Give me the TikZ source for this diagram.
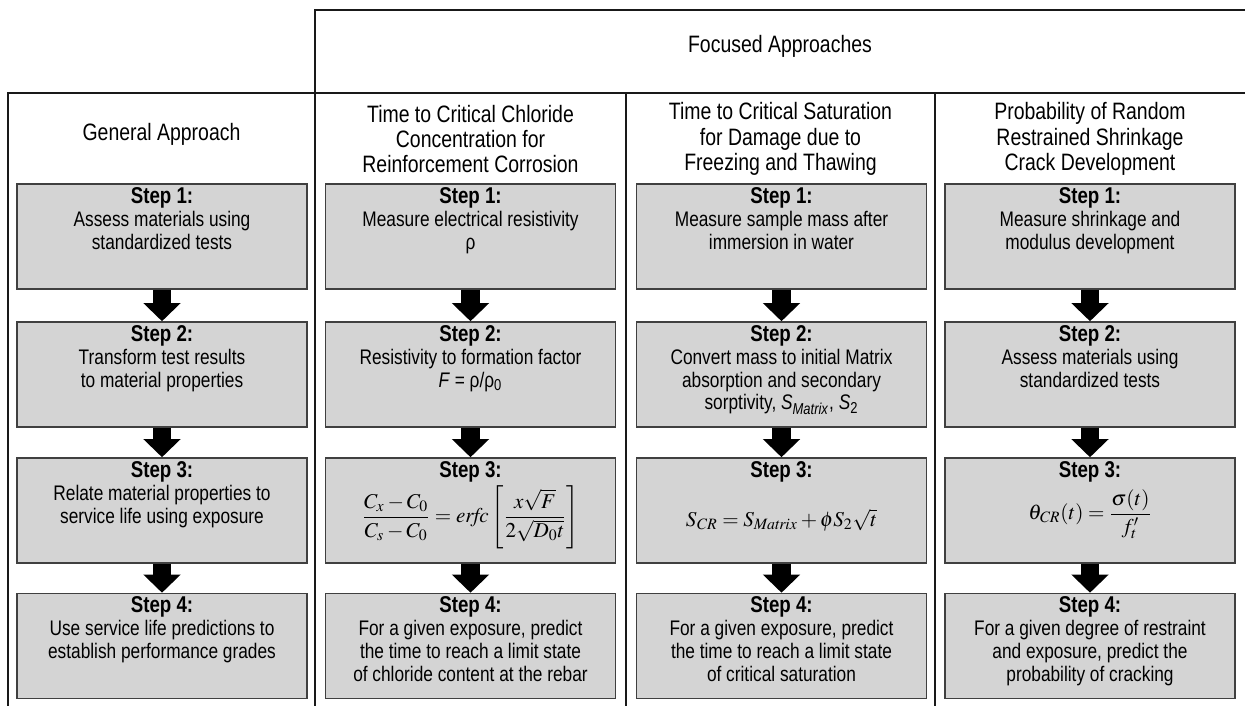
\documentclass[tikz,border=0pt]{standalone}
\usepackage{amsmath}
\usepackage{mathptmx}
\usepackage[no-math]{fontspec}
\setmainfont{Liberation Sans}[FakeStretch=0.82]
\usetikzlibrary{arrows.meta}

% text of one step box: bold title, then the body lines
\newcommand{\stepbody}[2]{\parbox[c][1.96cm][t]{5.6cm}{\centering
  {\fontsize{13}{14}\selectfont\bfseries Step #1:}\\
  \fontsize{12}{13}\selectfont #2}}

\begin{document}
\begin{tikzpicture}[x=0.02cm,y=-0.02cm,
    frame/.style={line width=1.3pt,black!90},
    stepbox/.style={draw=black!75,line width=0.9pt,fill=black!17,
      minimum width=5.8cm,minimum height=2.1cm,inner sep=0pt},
    colhead/.style={align=center,font=\fontsize{13.5}{14.5}\selectfont},
    blockarrow/.style={line width=0.37cm,-{Triangle[width=0.72cm,length=0.36cm]}}]

    \useasboundingbox (0,0) rectangle (1245,706);

    % Frame of the table
    \draw[frame] (315,706) -- (315,10) -- (1245,10);
    \draw[frame] (8,706) -- (8,93) -- (1245,93);
    \draw[frame] (626,93) -- (626,706);
    \draw[frame] (935,93) -- (935,706);

    % Headings
    \node[colhead] (hfoc) at (780,46) {Focused Approaches};
    \node[colhead] (hgen) at (161.5,134) {General Approach};
    \node[colhead] (hcl) at (470.5,139) {Time to Critical Chloride\\Concentration for\\Reinforcement Corrosion};
    \node[colhead] (hfz) at (780.5,139) {Time to Critical Saturation\\for Damage due to\\Freezing and Thawing};
    \node[colhead] (hsh) at (1090,139) {Probability of Random\\Restrained Shrinkage\\Crack Development};

    % General approach
    \node[stepbox] (ga1) at (162,236.5) {\stepbody{1}{Assess materials using\\standardized tests}};
    \node[stepbox] (ga2) at (162,374.5) {\stepbody{2}{Transform test results\\to material properties}};
    \node[stepbox] (ga3) at (162,510.5) {\stepbody{3}{Relate material properties to\\service life using exposure}};
    \node[stepbox] (ga4) at (162,646) {\stepbody{4}{Use service life predictions to\\establish performance grades}};

    % Chloride
    \node[stepbox] (cl1) at (470.5,236.5) {\stepbody{1}{Measure electrical resistivity\\ρ}};
    \node[stepbox] (cl2) at (470.5,374.5) {\stepbody{2}{Resistivity to formation factor\\\textit{F} = ρ/ρ\textsubscript{0}}};
    \node[stepbox] (cl3) at (470.5,510.5) {\stepbody{3}{\vspace*{1pt}$\dfrac{C_x-C_0}{C_s-C_0}=\mathit{erfc}\left[\dfrac{x\sqrt{F}}{2\sqrt{D_0t}}\right]$}};
    \node[stepbox] (cl4) at (470.5,646) {\stepbody{4}{For a given exposure, predict\\the time to reach a limit state\\of chloride content at the rebar}};

    % Freezing and thawing
    \node[stepbox] (fz1) at (781.5,236.5) {\stepbody{1}{Measure sample mass after\\immersion in water}};
    \node[stepbox] (fz2) at (781.5,374.5) {\stepbody{2}{Convert mass to initial Matrix\\absorption and secondary\\sorptivity, \textit{S}\textsubscript{\textit{Matrix}}, \textit{S}\textsubscript{2}}};
    \node[stepbox] (fz3) at (781.5,510.5) {\stepbody{3}{\mbox{}\\[2pt]$S_{\mathit{CR}}=S_{\mathit{Matrix}}+\phi S_2\sqrt{t}$}};
    \node[stepbox] (fz4) at (781.5,646) {\stepbody{4}{For a given exposure, predict\\the time to reach a limit state\\of critical saturation}};

    % Shrinkage cracking
    \node[stepbox] (sh1) at (1090,236.5) {\stepbody{1}{Measure shrinkage and\\modulus development}};
    \node[stepbox] (sh2) at (1090,374.5) {\stepbody{2}{Assess materials using\\standardized tests}};
    \node[stepbox] (sh3) at (1090,510.5) {\stepbody{3}{\vspace*{3pt}$\theta_{\mathit{CR}}(t)=\dfrac{\sigma(t)}{f_t'}$}};
    \node[stepbox] (sh4) at (1090,646) {\stepbody{4}{For a given degree of restraint\\and exposure, predict the\\probability of cracking}};

    % Arrows between steps
    \foreach \c in {ga,cl,fz,sh} {
      \draw[blockarrow] (\c1) -- (\c2);
      \draw[blockarrow] (\c2) -- (\c3);
      \draw[blockarrow] (\c3) -- (\c4);
    }
\end{tikzpicture}
\end{document}
